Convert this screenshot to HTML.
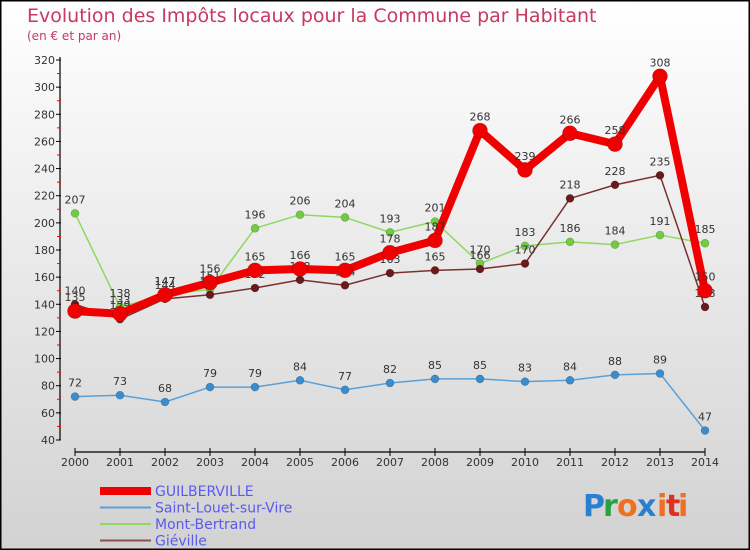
<!DOCTYPE html>
<html><head><meta charset="utf-8"><style>
body{margin:0}
#wrap{width:750px;height:550px;position:relative;overflow:hidden;font-family:"DejaVu Sans","Liberation Sans",sans-serif}
</style></head><body>
<div id="wrap">
<svg id="chart" width="750" height="550">
<defs><linearGradient id="bg" x1="0" y1="0" x2="0" y2="1"><stop offset="0" stop-color="#ffffff"/><stop offset="1" stop-color="#d2d2d2"/></linearGradient></defs>
<rect x="0.5" y="0.5" width="749" height="549" fill="url(#bg)" stroke="#000" stroke-width="2"/>
<text x="27" y="22" font-size="19" fill="#c8385f">Evolution des Impôts locaux pour la Commune par Habitant</text>
<text x="27" y="40" font-size="12" fill="#c8385f">(en € et par an)</text>
<g id="axes"></g><g id="series"></g><g id="legend"></g>
<g font-size="30" font-family="DejaVu Sans, sans-serif" font-weight="bold">
<text x="583" y="516" fill="#2a7fd0">P</text><text x="603" y="516" fill="#2aa040">r</text><text x="617" y="516" fill="#f07020">o</text><text x="637" y="516" fill="#2a7fd0">x</text><text x="657" y="516" fill="#f07020">i</text><text x="666" y="516" fill="#e03020">t</text><text x="678" y="516" fill="#f07020">i</text>
</g>
</svg>
</div>
<script>
const years=[2000,2001,2002,2003,2004,2005,2006,2007,2008,2009,2010,2011,2012,2013,2014];
const yTicks=[40,60,80,100,120,140,160,180,200,220,240,260,280,300,320];
const guilberville=[135,133,147,156,165,166,165,178,187,268,239,266,258,308,150];
const saintLouet=[72,73,68,79,79,84,77,82,85,85,83,84,88,89,47];
const montBertrand=[207,138,147,151,196,206,204,193,201,170,183,186,184,191,185];
const gieville=[140,129,144,147,152,158,154,163,165,166,170,218,228,235,138];
const NS="http://www.w3.org/2000/svg";
function X(i){return 75+(705-75)*i/(years.length-1);}
function Y(v){return 440-(v-40)*(380/280);}
function mk(t,a,p){const e=document.createElementNS(NS,t);for(const k in a)e.setAttribute(k,a[k]);p.appendChild(e);return e;}
const ax=document.getElementById('axes');
const yl=mk('line',{x1:60,y1:Y(320)-3,x2:60,y2:440,stroke:'#000','stroke-width':1.2},ax);


yTicks.forEach(v=>{
 mk('line',{x1:56,y1:Y(v),x2:61,y2:Y(v),stroke:'#000'},ax);
 if(v<320)mk('line',{x1:57,y1:Y(v+10),x2:61,y2:Y(v+10),stroke:'#f00'},ax);
 const t=mk('text',{x:55,y:Y(v)+4,'font-size':11,fill:'#333','text-anchor':'end'},ax);t.textContent=v;
 
 
});
const xl=mk('line',{x1:X(0),y1:452,x2:X(14),y2:452,stroke:'#000','stroke-width':1.2},ax);


years.forEach((y,i)=>{
 mk('line',{x1:X(i),y1:448,x2:X(i),y2:456,stroke:'#000'},ax);
 const t=mk('text',{x:X(i),y:466,'font-size':11,fill:'#333','text-anchor':'middle'},ax);t.textContent=y;
 
 
});
const sg=document.getElementById('series');
function draw(vals,color,w,r,dot,name){
 const g=mk('g',{},sg);
 
 
 mk('polyline',{points:vals.map((v,i)=>X(i)+','+Y(v)).join(' '),fill:'none',stroke:color,'stroke-width':w,'stroke-linejoin':'round'},g);
 vals.forEach((v,i)=>{
  const c=mk('circle',{cx:X(i),cy:Y(v),r:r,fill:dot,stroke:'rgba(0,0,0,0.25)','stroke-width':0.6},g);
  
  
  const t=mk('text',{x:X(i),y:Y(v)-10,'font-size':11,fill:'#333','text-anchor':'middle'},g);t.textContent=v;
  
  
 });
}
draw(saintLouet,'#5aa0d8',1.5,4,'#3a8ccc','saint-louet');
draw(montBertrand,'#8ed860',1.5,4,'#70cc40','mont-bertrand');
draw(gieville,'#7a3030',1.5,4,'#6a1a1a','gieville');
draw(guilberville,'#f00000',8,7.5,'#f00000','guilberville');
const lg=document.getElementById('legend');
[['GUILBERVILLE','#f00000',8],['Saint-Louet-sur-Vire','#5aa0d8',2],['Mont-Bertrand','#8ed860',2],['Giéville','#8a5050',2]].forEach((d,i)=>{
 const y=491+i*16.5;
 const g=mk('g',{},lg);
 
 
 mk('line',{x1:100,y1:y,x2:151,y2:y,stroke:d[1],'stroke-width':d[2]},g);
 const t=mk('text',{x:155,y:y+5,'font-size':14,fill:'#5a5af0'},g);t.textContent=d[0];
});
</script>
</body></html>
